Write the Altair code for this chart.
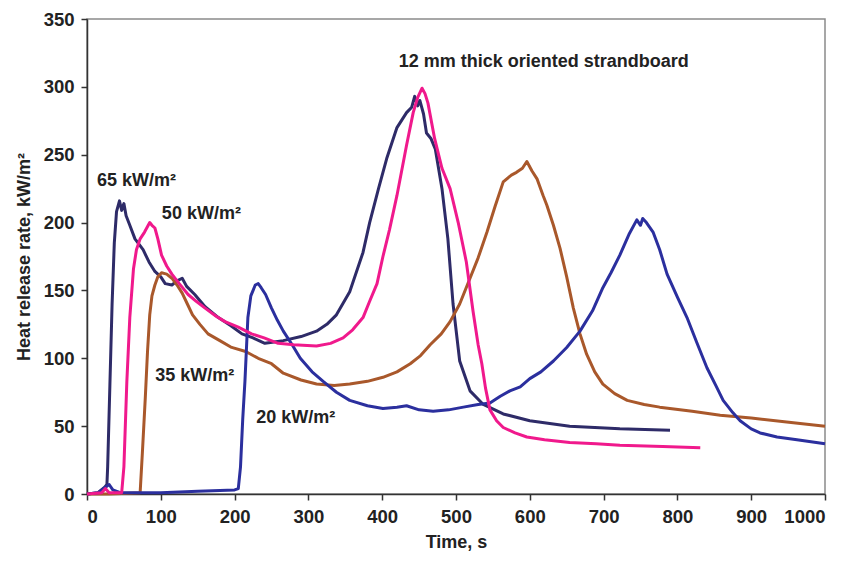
import altair as alt
import pandas as pd

# ---- data ----
t65 = [0, 15, 24, 27, 28, 31, 34, 37, 40, 44, 47, 50, 53, 58, 65, 76, 84, 92, 100, 106,
       115, 122, 129, 135, 146, 160, 178, 195, 210, 225, 241, 266, 290, 311, 325, 338,
       356, 374, 383, 395, 406, 420, 433, 440, 444, 448, 451, 456, 460, 466, 472, 481,
       489, 496, 505, 519, 537, 564, 600, 654, 722, 790]
v65 = [0, 1, 5, 7, 20, 80, 140, 185, 208, 216, 209, 214, 205, 198, 188, 180, 171, 164,
       160, 155, 154, 157, 159, 153, 147, 138, 130, 124, 118, 115, 111, 113, 116, 120,
       125, 132, 149, 178, 200, 225, 247, 270, 281, 285, 293, 286, 290, 280, 266, 262,
       254, 225, 188, 140, 98, 76, 66, 59, 54, 50, 48, 47]

t50 = [0, 20, 25, 30, 47, 50, 54, 58, 63, 67, 72, 78, 85, 88, 92, 96, 101, 108, 115, 125,
       137, 148, 160, 175, 187, 205, 223, 240, 259, 280, 311, 330, 347, 360, 374, 383,
       393, 401, 410, 420, 433, 442, 448, 454, 458, 462, 471, 481, 492, 503, 514, 523,
       530, 535, 540, 546, 555, 564, 580, 596, 620, 654, 690, 722, 780, 831]
v50 = [0, 1, 4, 1, 1, 20, 83, 130, 166, 180, 188, 193, 200, 198, 196, 188, 176, 168, 162,
       155, 147, 142, 137, 131, 127, 123, 118, 115, 111, 110, 109, 111, 115, 121, 130,
       142, 155, 175, 195, 220, 257, 281, 292, 299, 295, 288, 262, 240, 225, 200, 171,
       135, 110, 96, 78, 62, 54, 49, 45, 42, 40, 38, 37, 36, 35, 34]

t35 = [0, 30, 72, 75, 79, 82, 85, 88, 92, 96, 101, 108, 115, 122, 129, 136, 143, 153, 164,
       180, 196, 215, 232, 250, 266, 290, 311, 335, 356, 380, 401, 420, 438, 452, 465,
       480, 492, 505, 519, 530, 542, 553, 564, 575, 582, 590, 596, 603, 610, 618, 623,
       632, 641, 650, 659, 668, 677, 688, 699, 715, 732, 755, 776, 820, 858, 900, 948, 1000]
v35 = [0, 0, 1, 30, 71, 105, 132, 146, 154, 160, 163, 162, 159, 154, 148, 140, 132, 125,
       118, 113, 108, 105, 100, 96, 89, 84, 81, 80, 81, 83, 86, 90, 96, 102, 110, 118,
       127, 140, 159, 174, 193, 212, 230, 235, 237, 240, 245, 238, 232, 220, 213, 198,
       181, 160, 137, 118, 103, 90, 81, 74, 69, 66, 64, 61, 58, 56, 53, 50]

t20 = [0, 15, 25, 30, 35, 45, 100, 150, 200, 205, 208, 211, 214, 218, 222, 228, 232, 236,
       242, 250, 258, 266, 278, 289, 305, 320, 338, 356, 380, 401, 420, 433, 450, 469,
       490, 510, 530, 546, 560, 573, 587, 600, 615, 632, 650, 668, 685, 699, 710, 722,
       735, 745, 750, 753, 758, 767, 776, 786, 800, 813, 826, 840, 852, 862, 875, 885,
       900, 912, 935, 962, 1000]
v20 = [0, 1, 5, 7, 3, 1, 1, 2, 3, 4, 20, 55, 83, 130, 146, 154, 155, 152, 147, 137, 128,
       120, 110, 100, 90, 83, 75, 69, 65, 63, 64, 65, 62, 61, 62, 64, 66, 67, 72, 76, 79,
       85, 90, 98, 108, 120, 135, 152, 163, 176, 192, 202, 198, 203, 200, 193, 180, 162,
       145, 130, 112, 93, 80, 69, 60, 54, 48, 45, 42, 40, 37]

series_names = ["65 kW/m²", "35 kW/m²", "20 kW/m²", "50 kW/m²"]
series_colors = ["#2e2b68", "#a9582b", "#2b2f9e", "#f0198c"]

ann_text = ["65 kW/m²", "50 kW/m²", "35 kW/m²", "20 kW/m²", "12 mm thick oriented strandboard"]
ann_t = [67, 155, 146, 283, 619]
ann_v = [231, 206, 87, 56, 318]

x_ticks = [0, 100, 200, 300, 400, 500, 600, 700, 800, 900, 1000]
y_ticks = [0, 50, 100, 150, 200, 250, 300, 350]

rows = []
for name, ts, vs in [("65 kW/m²", t65, v65), ("35 kW/m²", t35, v35),
                     ("20 kW/m²", t20, v20), ("50 kW/m²", t50, v50)]:
    for i, (t, v) in enumerate(zip(ts, vs)):
        rows.append({"series": name, "t": t, "v": v, "i": i})
df = pd.DataFrame(rows)
ann = pd.DataFrame({"text": ann_text, "t": ann_t, "v": ann_v})

FONT = "Liberation Sans"

xscale = alt.Scale(domain=[0, 1000], nice=False, zero=False)
yscale = alt.Scale(domain=[0, 350], nice=False)

lines = alt.Chart(df).mark_line(strokeWidth=3, strokeJoin="round").encode(
    x=alt.X("t:Q", scale=xscale,
            axis=alt.Axis(title="Time, s", values=x_ticks, format="d", grid=False)),
    y=alt.Y("v:Q", scale=yscale,
            axis=alt.Axis(title="Heat release rate, kW/m²", values=y_ticks, format="d",
                          grid=False)),
    color=alt.Color("series:N", scale=alt.Scale(domain=series_names, range=series_colors),
                    legend=None),
    order="i:Q",
)

labels = alt.Chart(ann).mark_text(font=FONT, fontSize=18, fontWeight="bold",
                                  color="#222222", align="center", baseline="middle").encode(
    x=alt.X("t:Q", scale=xscale),
    y=alt.Y("v:Q", scale=yscale),
    text="text:N",
)

chart = alt.layer(lines, labels).properties(
    width=738, height=475,
    autosize=alt.AutoSizeParams(type="none"),
    padding={"left": 79, "top": 11, "right": 14, "bottom": 60},
    background="white",
).configure_view(
    stroke="#8a8a8a", strokeWidth=1.5
).configure_axis(
    labelFont=FONT, labelFontSize=18.5, labelFontWeight="bold", labelColor="#222222",
    titleFont=FONT, titleFontSize=18, titleFontWeight="bold", titleColor="#222222",
    domainColor="#333333", domainWidth=1.5, tickColor="#333333", tickWidth=1.5,
    tickSize=6,
).configure_axisX(
    labelPadding=7, titlePadding=8,
).configure_axisY(
    labelPadding=7, titlePadding=10,
)

chart.save("out.html", embed_options={"renderer": "svg", "actions": False})
